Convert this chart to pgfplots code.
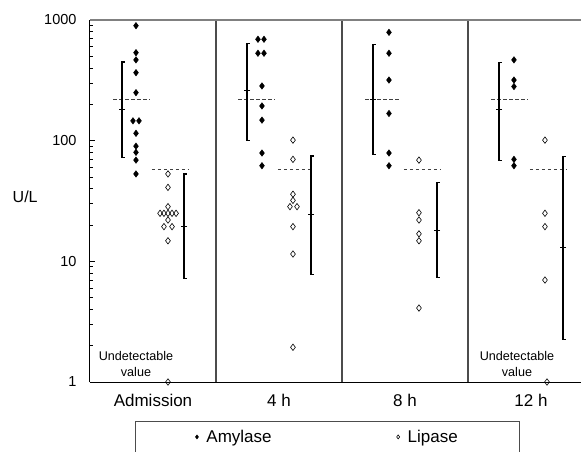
\documentclass[border=0pt]{standalone}
\usepackage{fontspec}
\setmainfont{Liberation Sans}
\usepackage{pgfplots}
\pgfplotsset{compat=1.18}
\usepackage{pgfplotstable}
\usetikzlibrary{calc}

% cap that points right only, for the "[" shaped bars
\pgfdeclareplotmark{rcap}{%
  \pgfpathmoveto{\pgfqpoint{-0.5\pgflinewidth}{0pt}}%
  \pgfpathlineto{\pgfqpoint{\pgfplotmarksize}{0pt}}%
  \pgfusepathqstroke}

\pgfplotstableread{
x y
0.365 897
0.365 536
0.365 467
0.365 366
0.365 250
0.341 146
0.389 146
0.365 115
0.365 90
0.365 80
0.365 69
0.365 53
1.333 692
1.381 692
1.333 530
1.381 530
1.365 284
1.365 194
1.365 148
1.365 79
1.365 62
2.373 790
2.373 530
2.373 318
2.373 168
2.373 79
2.373 62
3.365 467
3.365 318
3.365 281
3.365 70
3.365 62
}\amylase

\pgfplotstableread{
x y
0.619 53
0.619 41
0.619 28.4
0.556 25
0.587 25
0.619 25
0.651 25
0.683 25
0.619 22
0.587 19.4
0.651 19.4
0.619 14.8
0.619 1
1.611 101
1.611 70
1.611 36
1.611 32
1.587 28.4
1.643 28.4
1.611 19.4
1.611 11.5
1.611 1.94
2.611 69
2.611 25.3
2.611 22
2.611 16.9
2.611 14.8
2.611 4.1
3.611 101
3.611 25
3.611 19.4
3.611 7.0
3.627 1
}\lipase

% error bars: low and high end, nan breaks the line
\pgfplotstableread{
x y
0.254 73
0.254 449
nan nan
1.246 101
1.246 641
nan nan
2.246 77
2.246 629
nan nan
3.246 69
3.246 446
nan nan
0.746 7.2
0.746 53
nan nan
1.754 7.8
1.754 74.6
nan nan
2.754 7.3
2.754 45
nan nan
3.754 2.26
3.754 74
}\bars

\pgfplotstableread{
x y
0.254 180
1.246 260
2.246 220
3.246 180
0.746 19.4
1.754 24.4
2.754 18
3.754 13
}\centres

% reference limits (amylase 220, lipase ~60)
\pgfplotstableread{
x y
0.183 220
0.476 220
nan nan
1.175 220
1.468 220
nan nan
2.183 220
2.468 220
nan nan
3.183 220
3.476 220
nan nan
0.492 58
0.778 58
nan nan
1.492 58
1.770 58
nan nan
2.492 58
2.778 58
nan nan
3.492 58
3.786 58
}\limits

\begin{document}
\begin{tikzpicture}
\begin{axis}[
  name=ax,
  scale only axis, width=491bp, height=362bp,
  xmin=0, xmax=3.897,
  ymode=log, ymin=1, ymax=1000,
  axis x line=bottom, axis y line=left,
  axis line style={-, black, line width=1bp},
  clip=false, unbounded coords=jump,
  xtick={0.5,1.5,2.5,3.5},
  xticklabels={Admission,4 h,8 h,12 h},
  x tick style={draw=none},
  xticklabel style={font=\fontsize{17bp}{20bp}\selectfont, yshift=-9bp},
  ytick={1,10,100,1000},
  yticklabels={1,10,100,1000},
  minor ytick={2,3,4,5,6,7,8,9,20,30,40,50,60,70,80,90,200,300,400,500,600,700,800,900},
  tick align=inside,
  y tick style={black, line width=0.8bp},
  major tick length=5bp, minor tick length=3bp,
  yticklabel style={font=\fontsize{14.5bp}{17bp}\selectfont, xshift=-10bp},
  ylabel={U/L},
  ylabel style={at={(axis description cs:-0.132,0.511)}, rotate=-90, anchor=center,
    font=\fontsize{16bp}{19bp}\selectfont},
  legend columns=2,
  legend cell align=left,
  legend style={at={(axis description cs:0.0916,-0.1064)}, anchor=north west,
    draw=black!70, line width=1bp, inner xsep=60bp, inner ysep=7bp,
    font=\fontsize{17bp}{20bp}\selectfont,
    /tikz/every odd column/.append style={column sep=6bp},
    /tikz/every even column/.append style={column sep=123bp}},
  legend image code/.code={\draw[mark repeat=2, mark phase=2, #1, mark size=2bp]
    plot coordinates {(0bp,0bp) (3bp,0bp) (6bp,0bp)};},
]
  % panel dividers and grey top edge
  \draw[black!70, line width=1.2bp] (axis cs:1,1) -- (axis cs:1,1000);
  \draw[black!70, line width=1.2bp] (axis cs:2,1) -- (axis cs:2,1000);
  \draw[black!70, line width=1.2bp] (axis cs:3,1) -- (axis cs:3,1000);
  \draw[gray, line width=1.2bp] (rel axis cs:0,1) -- (rel axis cs:1,1);

  \addplot[forget plot, black!75, line width=1bp, dash pattern=on 3.5bp off 2.5bp]
    table {\limits};
  \addplot[forget plot, black, line width=1.2bp, mark=rcap, mark size=3.2bp]
    table {\bars};
  \addplot[forget plot, only marks, black, line width=1.2bp, mark=-, mark size=3.2bp]
    table {\centres};

  \addplot[only marks, mark=diamond*, mark size=3.2bp,
    mark options={fill=black, draw=black, line width=0.5bp}] table {\amylase};
  \addlegendentry{Amylase}
  \addplot[only marks, mark=diamond, mark size=3.2bp,
    mark options={fill=white, draw=black, line width=0.6bp}] table {\lipase};
  \addlegendentry{Lipase}

  \node[font=\fontsize{12.6bp}{16bp}\selectfont, align=center]
    at (axis cs:0.365,1.41) {Undetectable\\value};
  \node[font=\fontsize{12.6bp}{16bp}\selectfont, align=center]
    at (axis cs:3.389,1.41) {Undetectable\\value};
\end{axis}
\pgfresetboundingbox
\path[use as bounding box] ($(ax.south west)+(-90bp,-70bp)$) rectangle ($(ax.north east)+(0bp,20bp)$);
\end{tikzpicture}
\end{document}
